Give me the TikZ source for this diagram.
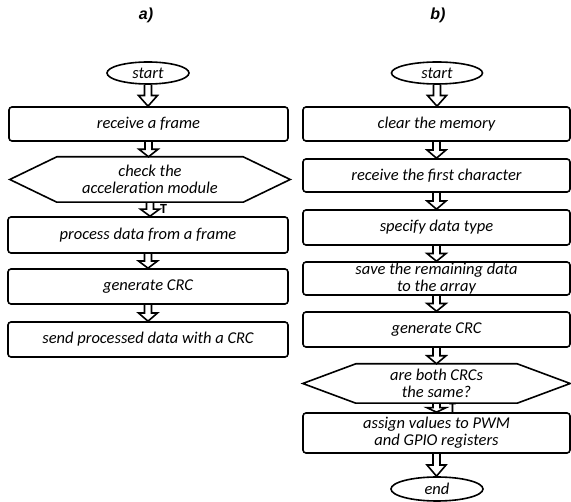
\documentclass[tikz,border=0pt]{standalone}
\usepackage{fontspec}
\setmainfont{Carlito}
\newfontfamily\labelfont{Liberation Sans}
\usetikzlibrary{calc,shapes.geometric}

\newcommand{\flowarrow}[2]{%
  \draw[hollow] let \p1=(#1.south), \p2=(#2.north), \n1={(\y1+\y2)/2} in
    (\x1-3.5pt,\y1) -- (\x1-3.5pt,\n1) -- (\x1-9.5pt,\n1) -- (\x1,\y2)
    -- (\x1+9.5pt,\n1) -- (\x1+3.5pt,\n1) -- (\x1+3.5pt,\y1);}
\newcommand{\hexpath}[2]{%
  \draw[line] (#1.west) -- ([xshift=#2]#1.north west) -- ([xshift=-#2]#1.north east)
    -- (#1.east) -- ([xshift=-#2]#1.south east) -- ([xshift=#2]#1.south west) -- cycle;}

\begin{document}
\begin{tikzpicture}[x=1pt,y=1pt]
\tikzstyle{every node}+=[inner sep=0pt, font=\fontsize{16.5}{17}\selectfont\itshape, align=center]
\tikzstyle{line}=[black, line width=1.6pt]
\tikzstyle{hollow}=[black, line width=1.6pt, line join=miter]
\tikzstyle{box}=[line, draw, rounded corners=3pt, minimum height=35pt]
\tikzstyle{term}=[line, draw, ellipse, minimum height=22pt]
\tikzstyle{title}=[font=\labelfont\fontsize{16}{18}\selectfont\bfseries\itshape]
\tikzstyle{tlabel}=[anchor=west, font=\fontsize{14}{15}\selectfont\upshape\bfseries]
\useasboundingbox (0,0) rectangle (571,-502);
\node[title] (ta) at (146,-15) {a)};
\node[title] (tb) at (438,-15) {b)};
\node[term, minimum width=82pt] (starta) at (148,-73) {start};
\node[box, minimum width=279pt, minimum height=34pt] (frame) at (148.5,-124) {receive a frame};
\node[minimum width=280pt, minimum height=45pt] (check) at (150,-179.5) {check the\\acceleration module};
\hexpath{check}{47pt}
\node[box, minimum width=280pt, minimum height=36pt] (process) at (148,-235) {process data from a frame};
\node[box, minimum width=280pt] (crca) at (148,-286.5) {generate CRC};
\node[box, minimum width=280pt] (send) at (148,-339.5) {send processed data with a CRC};
\flowarrow{starta}{frame}
\flowarrow{frame}{check}
\flowarrow{check}{process}
\flowarrow{process}{crca}
\flowarrow{crca}{send}
\node[tlabel] (ya) at (160,-209) {T};
\node[term, minimum width=91pt] (startb) at (437,-73) {start};
\node[box, minimum width=267pt, minimum height=34pt] (clear) at (436.5,-124) {clear the memory};
\node[box, minimum width=267pt, minimum height=33pt] (first) at (436.5,-175.5) {receive the first character};
\node[box, minimum width=267pt] (type) at (436.5,-227.5) {specify data type};
\node[box, minimum width=267pt, minimum height=33pt] (save) at (436.5,-278.5) {save the remaining data\\to the array};
\node[box, minimum width=267pt] (crcb) at (436.5,-329.5) {generate CRC};
\node[minimum width=267pt, minimum height=39pt] (same) at (436.5,-383.5) {are both CRCs\\the same?};
\hexpath{same}{53pt}
\node[box, minimum width=267pt, minimum height=40pt] (assign) at (436.5,-433) {assign values to PWM\\and GPIO registers};
\node[term, minimum width=92pt, minimum height=24pt] (end) at (437,-489) {end};
\flowarrow{startb}{clear}
\flowarrow{clear}{first}
\flowarrow{first}{type}
\flowarrow{type}{save}
\flowarrow{save}{crcb}
\flowarrow{crcb}{same}
\flowarrow{same}{assign}
\flowarrow{assign}{end}
\node[tlabel] (yb) at (449,-408) {T};
\end{tikzpicture}
\end{document}
